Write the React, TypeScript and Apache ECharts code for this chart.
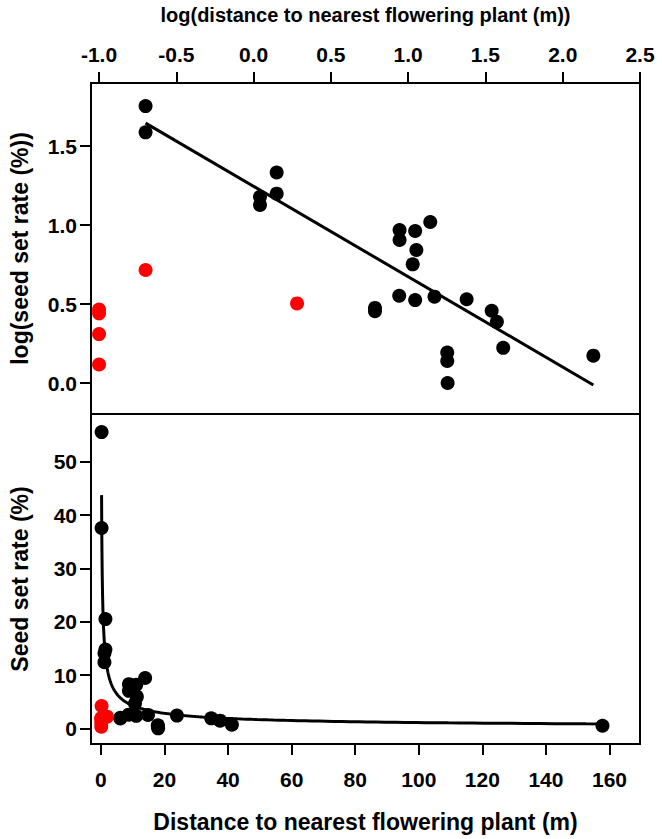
import React, { useEffect, useRef } from "react";
import * as echarts from "echarts";

const blackDistance = [0.2, 0.2, 1.41, 1.41, 1.1, 1.1, 6.1, 6.1, 8.8, 8.8, 11.1, 11.3, 10.7, 13.9, 8.75, 11.1, 14.8, 23.9, 34.7, 37.5, 41.2, 17.9, 17.9, 18.0, 157.8];
const blackSeedRate = [55.6, 37.6, 20.5, 14.8, 14.1, 12.4, 1.99, 1.85, 8.29, 7.04, 8.16, 5.95, 4.64, 9.45, 2.57, 2.35, 2.52, 2.39, 1.87, 1.44, 0.67, 0.56, 0.38, 0.0, 0.49];
const redDistance = [0.1, 0.1, 0.1, 0.1, 0.2, 1.91];
const redSeedRate = [1.92, 1.76, 1.04, 0.31, 4.19, 2.19];

// Fitted models
const topFitIntercept = 1.245;
const topFitSlope = -0.572;
const bottomFitCoef = 16.8;
const bottomFitExp = -0.595;
const fitDistanceRange = [0.2, 157.8];

// Tick labels
const topXTicks = [-1.0, -0.5, 0.0, 0.5, 1.0, 1.5, 2.0, 2.5];
const topYTicks = [0.0, 0.5, 1.0, 1.5];
const bottomXTicks = [0, 20, 40, 60, 80, 100, 120, 140, 160];
const bottomYTicks = [0, 10, 20, 30, 40, 50];

const FONT = "'Liberation Sans', Arial, sans-serif";

export default function App() {
  const ref = useRef<HTMLDivElement>(null);

  useEffect(() => {
    document.body.style.margin = "0";
    const chart = echarts.init(ref.current!, null, { renderer: "svg" });

    const logX = (d: number) => Math.log10(d);
    const logY = (r: number) => Math.log10(r + 1);

    const topBlack = blackDistance.map((d, i) => [logX(d), logY(blackSeedRate[i])]);
    const topRed = redDistance.map((d, i) => [logX(d), logY(redSeedRate[i])]);
    const bottomBlack = blackDistance.map((d, i) => [d, blackSeedRate[i]]);
    const bottomRed = redDistance.map((d, i) => [d, redSeedRate[i]]);

    const x0 = logX(fitDistanceRange[0]);
    const x1 = logX(fitDistanceRange[1]);
    const topFit = [
      [x0, topFitIntercept + topFitSlope * x0],
      [x1, topFitIntercept + topFitSlope * x1],
    ];
    const bottomFit: number[][] = [];
    const n = 200;
    for (let i = 0; i <= n; i++) {
      const lx = x0 + ((x1 - x0) * i) / n;
      const d = Math.pow(10, lx);
      bottomFit.push([d, bottomFitCoef * Math.pow(d, bottomFitExp)]);
    }

    const labelStyle = {
      color: "#000",
      fontSize: 21,
      fontWeight: "bold" as const,
      fontFamily: FONT,
    };
    const nameStyle = (size: number) => ({
      color: "#000",
      fontSize: size,
      fontWeight: "bold" as const,
      fontFamily: FONT,
    });
    const tick = (vals: number[]) => ({
      show: true,
      customValues: vals,
      length: 11,
      inside: false,
      lineStyle: { color: "#000", width: 2 },
    });
    const noLine = { show: false, onZero: false };

    chart.setOption({
      animation: false,
      backgroundColor: "#fff",
      grid: [
        { left: 89, top: 83, width: 551, height: 331, show: true, borderColor: "#000", borderWidth: 2, backgroundColor: "transparent" },
        { left: 89, top: 414, width: 551, height: 330, show: true, borderColor: "#000", borderWidth: 2, backgroundColor: "transparent" },
      ],
      xAxis: [
        {
          type: "value",
          gridIndex: 0,
          position: "top",
          min: -1.052,
          max: 2.5,
          axisLine: noLine,
          axisTick: tick(topXTicks),
          axisLabel: { ...labelStyle, customValues: topXTicks, margin: 18, formatter: (v: number) => v.toFixed(1) },
          splitLine: { show: false },
          name: "log(distance to nearest flowering plant (m))",
          nameLocation: "middle",
          nameGap: 58,
          nameTextStyle: nameStyle(20),
        },
        {
          type: "value",
          gridIndex: 1,
          position: "bottom",
          min: -3.13,
          max: 169.6,
          axisLine: noLine,
          axisTick: tick(bottomXTicks),
          axisLabel: { ...labelStyle, customValues: bottomXTicks, margin: 25, formatter: (v: number) => String(v) },
          splitLine: { show: false },
          name: "Distance to nearest flowering plant (m)",
          nameLocation: "middle",
          nameGap: 66,
          nameTextStyle: nameStyle(23),
        },
      ],
      yAxis: [
        {
          type: "value",
          gridIndex: 0,
          min: -0.196,
          max: 1.899,
          axisLine: noLine,
          axisTick: tick(topYTicks),
          axisLabel: { ...labelStyle, customValues: topYTicks, margin: 14, formatter: (v: number) => v.toFixed(1) },
          splitLine: { show: false },
          name: "log(seed set rate (%))",
          nameLocation: "middle",
          nameGap: 60,
          nameTextStyle: nameStyle(23),
        },
        {
          type: "value",
          gridIndex: 1,
          min: -2.94,
          max: 59,
          axisLine: noLine,
          axisTick: tick(bottomYTicks),
          axisLabel: { ...labelStyle, customValues: bottomYTicks, margin: 14, formatter: (v: number) => String(v) },
          splitLine: { show: false },
          name: "Seed set rate (%)",
          nameLocation: "middle",
          nameGap: 60,
          nameTextStyle: nameStyle(23),
        },
      ],
      series: [
        { type: "scatter", xAxisIndex: 0, yAxisIndex: 0, data: topBlack, symbolSize: 14, itemStyle: { color: "#000", opacity: 1 }, z: 2 },
        { type: "scatter", xAxisIndex: 0, yAxisIndex: 0, data: topRed, symbolSize: 14, itemStyle: { color: "#ff0000", opacity: 1 }, z: 2 },
        { type: "line", xAxisIndex: 0, yAxisIndex: 0, data: topFit, symbol: "none", lineStyle: { color: "#000", width: 3 }, z: 3 },
        { type: "scatter", xAxisIndex: 1, yAxisIndex: 1, data: bottomBlack, symbolSize: 14, itemStyle: { color: "#000", opacity: 1 }, z: 2 },
        { type: "scatter", xAxisIndex: 1, yAxisIndex: 1, data: bottomRed, symbolSize: 14, itemStyle: { color: "#ff0000", opacity: 1 }, z: 2 },
        { type: "line", xAxisIndex: 1, yAxisIndex: 1, data: bottomFit, symbol: "none", lineStyle: { color: "#000", width: 3 }, z: 3 },
      ],
    });

    return () => chart.dispose();
  }, []);

  return <div ref={ref} style={{ width: 662, height: 839, position: "absolute", left: 0, top: 0 }} />;
}
